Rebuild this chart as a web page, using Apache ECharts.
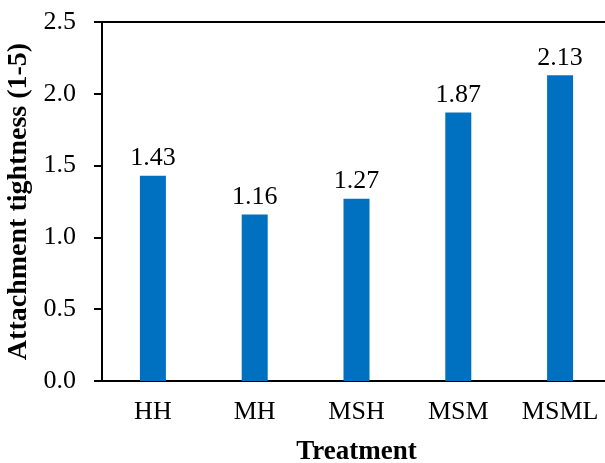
<!DOCTYPE html>
<html>
<head>
<meta charset="utf-8">
<script src="https://cdn.jsdelivr.net/npm/echarts@6/dist/echarts.min.js"></script>
<style>
  html, body { margin: 0; padding: 0; background: #fff; }
  #chart { width: 605px; height: 463px; }
</style>
</head>
<body>
<div id="chart"></div>
<script>
// Mean attachment tightness score per treatment
const categories = ['HH', 'MH', 'MSH', 'MSM', 'MSML'];
const tightness = [1.43, 1.16, 1.27, 1.87, 2.13];
const yTicks = { min: 0, max: 2.5, interval: 0.5 };

const serif = '"Liberation Serif", "Times New Roman", serif';
const chart = echarts.init(document.getElementById('chart'));

chart.setOption({
  animation: false,
  grid: { left: 102, right: -6, top: 22, bottom: 82, containLabel: false, outerBoundsMode: 'none' },
  xAxis: [
    {
      type: 'category',
      data: categories,
      position: 'bottom',
      axisLine: { show: true, lineStyle: { color: '#000', width: 2 } },
      axisTick: { show: false },
      axisLabel: { color: '#000', fontFamily: serif, fontSize: 26, margin: 18 },
      name: 'Treatment',
      nameLocation: 'middle',
      nameGap: 58,
      nameTextStyle: { color: '#000', fontFamily: serif, fontSize: 27, fontWeight: 'bold' }
    },
    {
      type: 'category',
      data: categories,
      position: 'top',
      axisLine: { show: true, lineStyle: { color: '#000', width: 2 } },
      axisTick: { show: false },
      axisLabel: { show: false }
    }
  ],
  yAxis: {
    type: 'value',
    min: yTicks.min,
    max: yTicks.max,
    interval: yTicks.interval,
    axisLine: { show: true, lineStyle: { color: '#000', width: 2 } },
    axisTick: { show: true, length: 8, lineStyle: { color: '#000', width: 2 } },
    splitLine: { show: false },
    axisLabel: {
      color: '#000', fontFamily: serif, fontSize: 26, margin: 26,
      formatter: v => v.toFixed(1)
    },
    name: 'Attachment tightness (1-5)',
    nameLocation: 'middle',
    nameGap: 66,
    nameTextStyle: { color: '#000', fontFamily: serif, fontSize: 28, fontWeight: 'bold' }
  },
  series: [{
    type: 'bar',
    data: tightness,
    barWidth: 26,
    itemStyle: { color: '#0070C0' },
    label: {
      show: true,
      position: 'top',
      distance: 4,
      color: '#000',
      fontFamily: serif,
      fontSize: 26,
      formatter: p => p.value.toFixed(2)
    }
  }]
});
</script>
</body>
</html>
